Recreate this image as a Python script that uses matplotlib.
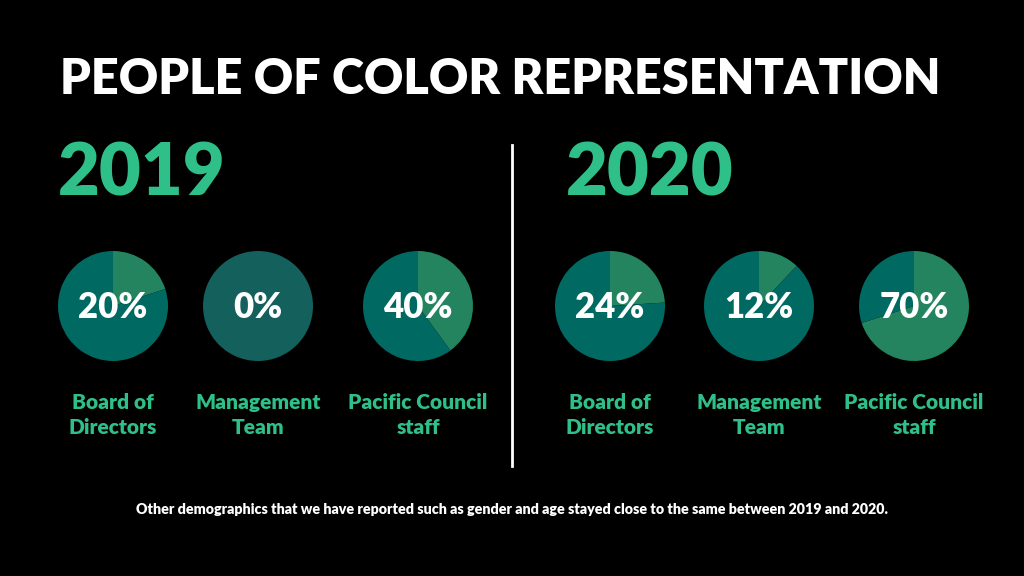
import matplotlib

matplotlib.use("Agg")

import matplotlib.pyplot as plt

# data
years = ["2019", "2020"]
groups = ["Board of\nDirectors", "Management\nTeam", "Pacific Council\nstaff"]
poc_2019 = [20, 0, 40]
poc_2020 = [24, 12, 70]

TITLE = "PEOPLE OF COLOR REPRESENTATION"
NOTE = ("Other demographics that we have reported such as gender and age "
        "stayed close to the same between 2019 and 2020.")

BG = "#000000"
GREEN_TXT = "#2fc08a"
SLICE = "#23845f"
REST = "#006a62"
EMPTY = "#14605d"
FONT = ["Lato", "DejaVu Sans"]

W, H = 1024, 576
fig = plt.figure(figsize=(W / 100, H / 100), dpi=100, facecolor=BG)


def px(x, y):
    return x / W, 1 - y / H


fig.text(*px(60, 80), TITLE, color="white", fontsize=35, fontweight="heavy",
         family=FONT, ha="left", va="center")

year_x = [58, 566]
centers_x = [[113, 258, 418], [610, 759, 914]]
cy, r = 306, 55

for year, yx, cxs, vals in zip(years, year_x, centers_x, [poc_2019, poc_2020]):
    fig.text(*px(yx, 175), year, color=GREEN_TXT, fontsize=52, fontweight="heavy",
             family=FONT, ha="left", va="center")
    for cx, val, grp in zip(cxs, vals, groups):
        ax = fig.add_axes([(cx - r) / W, 1 - (cy + r) / H, 2 * r / W, 2 * r / H])
        if val == 0:
            ax.pie([100], colors=[EMPTY], startangle=90, counterclock=False,
                   radius=1.0)
        else:
            ax.pie([val, 100 - val], colors=[SLICE, REST], startangle=90,
                   counterclock=False, radius=1.0)
        ax.set_xlim(-1, 1)
        ax.set_ylim(-1, 1)
        ax.set_aspect("equal")
        ax.axis("off")
        fig.text(*px(cx, cy + 2), f"{val}%", color="white", fontsize=25,
                 fontweight="heavy", family=FONT, ha="center", va="center")
        fig.text(*px(cx, 415), grp, color=GREEN_TXT, fontsize=15,
                 fontweight="heavy", family=FONT, ha="center", va="center",
                 linespacing=1.4)

fig.add_artist(plt.Line2D([512 / W, 512 / W], [1 - 145 / H, 1 - 466 / H],
                          color="white", linewidth=2))

fig.text(*px(512, 510), NOTE, color="white", fontsize=10.3, fontweight="heavy",
         family=FONT, ha="center", va="center")

fig.savefig("out.png", dpi=100, facecolor=BG)
plt.close(fig)
